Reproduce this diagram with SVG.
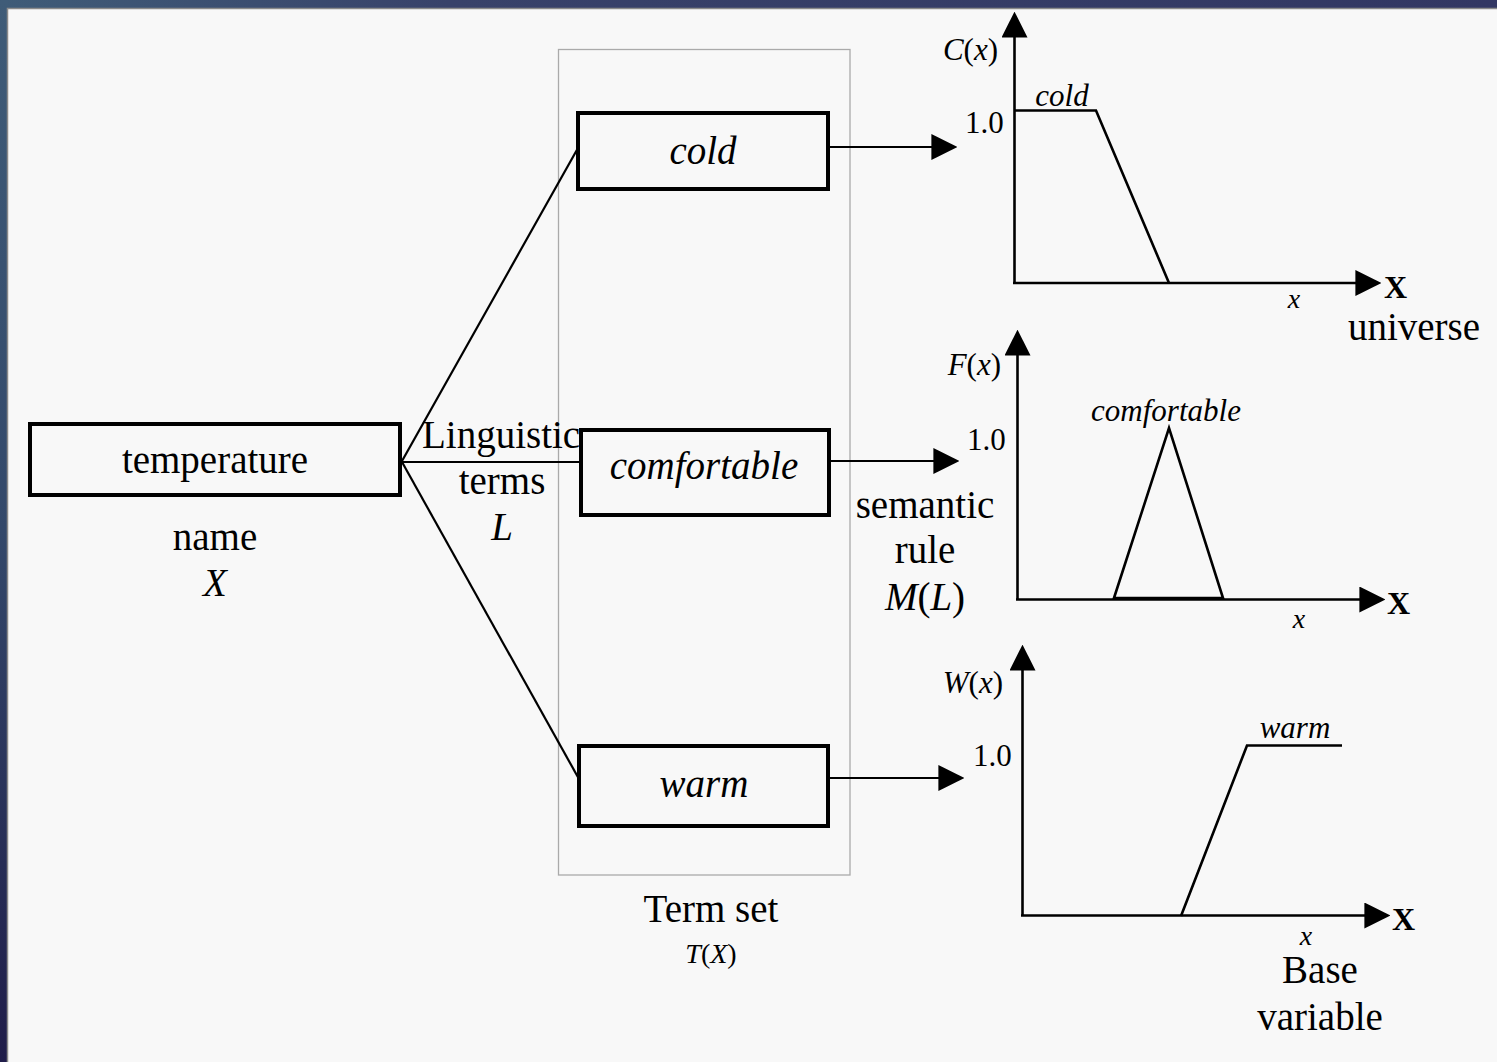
<svg xmlns="http://www.w3.org/2000/svg" width="1497" height="1062" viewBox="0 0 1497 1062" font-family="'Liberation Serif', 'Times New Roman', serif">
<defs>
<linearGradient id="gTop" x1="0" y1="0" x2="1" y2="0">
<stop offset="0" stop-color="#3f5c78"/>
<stop offset="0.3" stop-color="#38426a"/>
<stop offset="1" stop-color="#323763"/>
</linearGradient>
<linearGradient id="gLeft" x1="0" y1="0" x2="0" y2="1">
<stop offset="0" stop-color="#3f5c78"/>
<stop offset="0.5" stop-color="#33486a"/>
<stop offset="1" stop-color="#201d4a"/>
</linearGradient>
<marker id="arr" markerUnits="userSpaceOnUse" markerWidth="26" markerHeight="26" viewBox="0 0 25 25" refX="15" refY="12.5" orient="auto">
<path d="M0,0 L25,12.5 L0,25 Z" fill="#000"/>
</marker>
</defs>
<style>
text{font-family:"Liberation Serif","Times New Roman",serif;fill:#000}
.big{font-size:39px}
.sm{font-size:31px}
.xs{font-size:28px}
.it{font-style:italic}
.bx{font-weight:bold;font-size:32px}
.box{fill:#f8f8f8;stroke:#000;stroke-width:4}
.ln{stroke:#000;stroke-width:2.2;fill:none}
.ax{stroke:#000;stroke-width:2.6;fill:none}
</style>
<rect x="0" y="0" width="1497" height="1062" fill="#2e3460"/>
<rect x="0" y="0" width="1497" height="9" fill="url(#gTop)"/>
<rect x="0" y="0" width="8" height="1062" fill="url(#gLeft)"/>
<rect x="7.5" y="8.5" width="1495" height="1060" fill="#f8f8f8" stroke="#8a8a8a" stroke-width="1.5"/>

<g id="termset-frame">
<rect x="558.5" y="49.5" width="291.5" height="825.5" fill="none" stroke="#aaaaaa" stroke-width="1.3"/>
</g>

<g id="labels-left">
<text class="big" x="215" y="550" text-anchor="middle">name</text>
<text class="big it" x="215" y="596" text-anchor="middle">X</text>
<text class="big" x="422" y="448">Linguistic</text>
<text class="big" x="502" y="494" text-anchor="middle">terms</text>
<text class="big it" x="502" y="540" text-anchor="middle">L</text>
<text class="big" x="711" y="922" text-anchor="middle">Term set</text>
<text class="xs" x="711" y="963" text-anchor="middle"><tspan class="it">T</tspan>(<tspan class="it">X</tspan>)</text>
<text class="big" x="925" y="518" text-anchor="middle">semantic</text>
<text class="big" x="925" y="563" text-anchor="middle">rule</text>
<text class="big" x="925" y="610" text-anchor="middle"><tspan class="it">M</tspan>(<tspan class="it">L</tspan>)</text>
</g>

<g id="connectors">
<line class="ln" x1="402" y1="461" x2="578" y2="148"/>
<line class="ln" x1="402" y1="462" x2="581" y2="462"/>
<line class="ln" x1="402" y1="462" x2="579" y2="779"/>
<line class="ln" x1="830" y1="147" x2="947" y2="147" marker-end="url(#arr)"/>
<line class="ln" x1="831" y1="461" x2="949" y2="461" marker-end="url(#arr)"/>
<line class="ln" x1="830" y1="778" x2="954" y2="778" marker-end="url(#arr)"/>
</g>

<g id="temperature">
<rect class="box" x="30" y="424" width="370" height="71"/>
<text class="big" x="215" y="473" text-anchor="middle">temperature</text>
</g>
<g id="cold">
<rect class="box" x="578" y="113" width="250" height="76"/>
<text class="big it" x="703" y="164" text-anchor="middle">cold</text>
</g>
<g id="comfortable">
<rect class="box" x="581" y="430" width="248" height="85"/>
<text class="big it" x="704" y="479" text-anchor="middle">comfortable</text>
</g>
<g id="warm">
<rect class="box" x="579" y="746" width="249" height="80"/>
<text class="big it" x="704" y="797" text-anchor="middle">warm</text>
</g>

<g id="chart-cold">
<line class="ax" x1="1014.5" y1="283" x2="1014.5" y2="22" marker-end="url(#arr)"/>
<line class="ax" x1="1013" y1="283" x2="1371" y2="283" marker-end="url(#arr)"/>
<polyline class="ax" points="1015,110.5 1096,110.5 1169,283"/>
<text class="sm" x="998" y="60" text-anchor="end"><tspan class="it">C</tspan>(<tspan class="it">x</tspan>)</text>
<text class="sm it" x="1062" y="106" text-anchor="middle">cold</text>
<text class="sm" x="965" y="133">1.0</text>
<text class="xs it" x="1294" y="308" text-anchor="middle">x</text>
<text class="bx" x="1384" y="298">X</text>
<text class="big" x="1414" y="340" text-anchor="middle">universe</text>
</g>

<g id="chart-comfortable">
<line class="ax" x1="1017.5" y1="600" x2="1017.5" y2="340" marker-end="url(#arr)"/>
<line class="ax" x1="1016" y1="599.5" x2="1375" y2="599.5" marker-end="url(#arr)"/>
<polygon class="ax" points="1114,598 1169,428 1223,598"/>
<text class="sm" x="1001" y="375" text-anchor="end"><tspan class="it">F</tspan>(<tspan class="it">x</tspan>)</text>
<text class="sm it" x="1166" y="421" text-anchor="middle">comfortable</text>
<text class="sm" x="967" y="450">1.0</text>
<text class="xs it" x="1299" y="628" text-anchor="middle">x</text>
<text class="bx" x="1387" y="614">X</text>
</g>

<g id="chart-warm">
<line class="ax" x1="1022.5" y1="916" x2="1022.5" y2="655" marker-end="url(#arr)"/>
<line class="ax" x1="1021" y1="915.5" x2="1380" y2="915.5" marker-end="url(#arr)"/>
<polyline class="ax" points="1181,916 1247,745.5 1342,745.5"/>
<text class="sm" x="1003" y="693" text-anchor="end"><tspan class="it">W</tspan>(<tspan class="it">x</tspan>)</text>
<text class="sm it" x="1295" y="738" text-anchor="middle">warm</text>
<text class="sm" x="973" y="766">1.0</text>
<text class="xs it" x="1306" y="945" text-anchor="middle">x</text>
<text class="bx" x="1392" y="930">X</text>
<text class="big" x="1320" y="983" text-anchor="middle">Base</text>
<text class="big" x="1320" y="1030" text-anchor="middle">variable</text>
</g>
</svg>
